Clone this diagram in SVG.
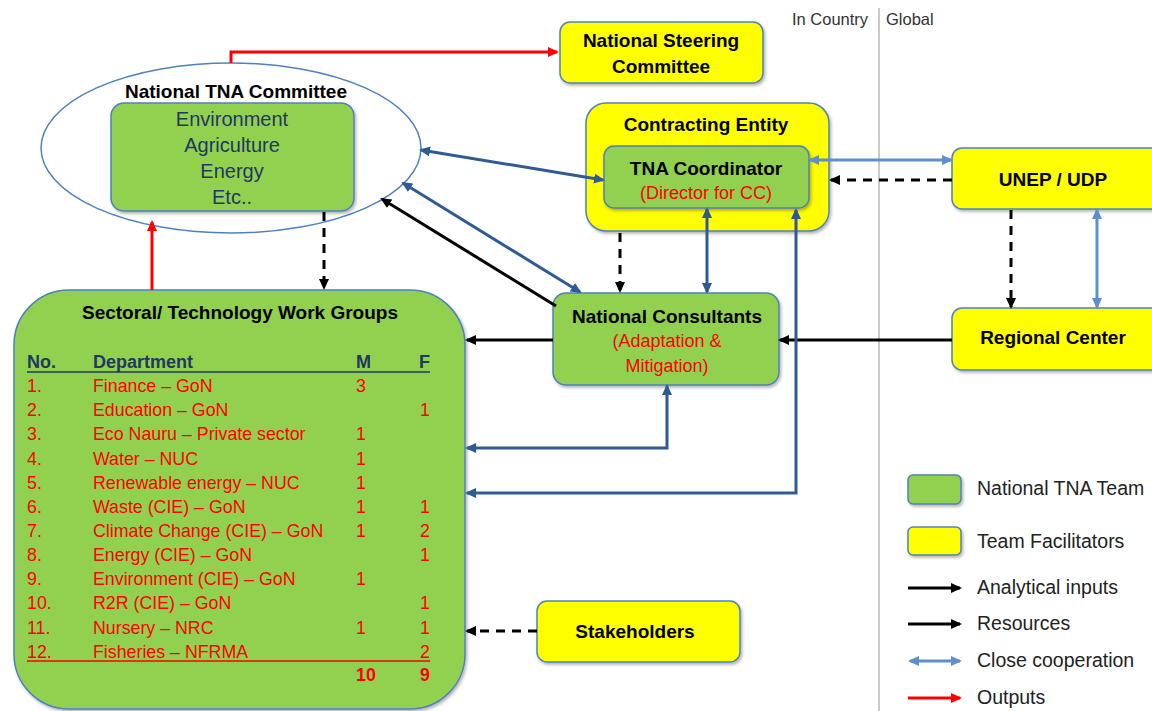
<svg xmlns="http://www.w3.org/2000/svg" width="1152" height="711" viewBox="0 0 1152 711">
<style>
text{font-family:"Liberation Sans",Arial,sans-serif}
.g{fill:#92d050;stroke:#4f81bd;stroke-width:1.5}
.y{fill:#ffff00;stroke:#4f81bd;stroke-width:1.5}
.t{font-weight:bold;font-size:19px;fill:#000;text-anchor:middle}
.nv{font-size:20px;fill:#1f3864;text-anchor:middle}
.rd{font-size:17.8px;fill:#ff0000}
.sub{font-size:18px;fill:#ff0000;text-anchor:middle}
.hd{font-size:18px;fill:#1f3864;font-weight:bold}
.lg{font-size:19.5px;fill:#222}
.sm{font-size:16.5px;fill:#333}
.c{fill:none;stroke-width:3}
.bk{stroke:#000}
.dsh{stroke:#000;stroke-dasharray:9,7}
.red{stroke:#ff0000}
.db{stroke:#2f5a94}
.lb{stroke:#5b8fd0}
</style>
<defs>
<filter id="sh" x="-10%" y="-10%" width="120%" height="130%"><feDropShadow dx="1.5" dy="2" stdDeviation="1.5" flood-color="#000" flood-opacity="0.3"/></filter>
<marker id="ab" markerUnits="userSpaceOnUse" markerWidth="11" markerHeight="10" refX="9" refY="5" orient="auto-start-reverse"><path d="M0,0 L11,5 L0,10 z" fill="#000"/></marker>
<marker id="ar" markerUnits="userSpaceOnUse" markerWidth="11" markerHeight="10" refX="9" refY="5" orient="auto-start-reverse"><path d="M0,0 L11,5 L0,10 z" fill="#ff0000"/></marker>
<marker id="ad" markerUnits="userSpaceOnUse" markerWidth="11" markerHeight="10" refX="9" refY="5" orient="auto-start-reverse"><path d="M0,0 L11,5 L0,10 z" fill="#2f5a94"/></marker>
<marker id="al" markerUnits="userSpaceOnUse" markerWidth="11" markerHeight="10" refX="9" refY="5" orient="auto-start-reverse"><path d="M0,0 L11,5 L0,10 z" fill="#5b8fd0"/></marker>
</defs>
<rect width="1152" height="711" fill="#fff"/>
<line x1="879" y1="8" x2="879" y2="711" stroke="#a6a6a6" stroke-width="1.2"/>
<text class="sm" x="792" y="25">In Country</text>
<text class="sm" x="886" y="25">Global</text>

<g id="sectoral">
<rect class="g" x="14" y="290" width="451" height="419" rx="55" filter="url(#sh)"/>
<text class="t" x="240" y="319">Sectoral/ Technology Work Groups</text>
<text class="hd" x="27" y="368">No.</text>
<text class="hd" x="93" y="368">Department</text>
<text class="hd" x="356" y="368">M</text>
<text class="hd" x="430" y="368" text-anchor="end">F</text>
<line x1="27" y1="372" x2="430" y2="372" stroke="#1f3864" stroke-width="1.5"/>
<g class="rd">
<text x="27" y="392">1.</text><text x="93" y="392">Finance – GoN</text><text x="356" y="392">3</text>
<text x="27" y="416">2.</text><text x="93" y="416">Education – GoN</text><text x="430" y="416" text-anchor="end">1</text>
<text x="27" y="440">3.</text><text x="93" y="440">Eco Nauru – Private sector</text><text x="356" y="440">1</text>
<text x="27" y="465">4.</text><text x="93" y="465">Water – NUC</text><text x="356" y="465">1</text>
<text x="27" y="489">5.</text><text x="93" y="489">Renewable energy – NUC</text><text x="356" y="489">1</text>
<text x="27" y="513">6.</text><text x="93" y="513">Waste (CIE) – GoN</text><text x="356" y="513">1</text><text x="430" y="513" text-anchor="end">1</text>
<text x="27" y="537">7.</text><text x="93" y="537">Climate Change (CIE) – GoN</text><text x="356" y="537">1</text><text x="430" y="537" text-anchor="end">2</text>
<text x="27" y="561">8.</text><text x="93" y="561">Energy (CIE) – GoN</text><text x="430" y="561" text-anchor="end">1</text>
<text x="27" y="585">9.</text><text x="93" y="585">Environment (CIE) – GoN</text><text x="356" y="585">1</text>
<text x="27" y="609">10.</text><text x="93" y="609">R2R (CIE) – GoN</text><text x="430" y="609" text-anchor="end">1</text>
<text x="27" y="634">11.</text><text x="93" y="634">Nursery – NRC</text><text x="356" y="634">1</text><text x="430" y="634" text-anchor="end">1</text>
<text x="27" y="658">12.</text><text x="93" y="658">Fisheries – NFRMA</text><text x="430" y="658" text-anchor="end">2</text>
<text x="356" y="681" font-weight="bold">10</text><text x="430" y="681" text-anchor="end" font-weight="bold">9</text>
</g>
<line x1="27" y1="661" x2="430" y2="661" stroke="#ff0000" stroke-width="1.5"/>
</g>

<g id="committee">
<ellipse cx="231" cy="148" rx="190" ry="85" fill="#fff" stroke="#4f81bd" stroke-width="1.5"/>
<text class="t" x="236" y="98">National TNA Committee</text>
<rect class="g" x="111" y="103" width="243" height="108" rx="13" filter="url(#sh)"/>
<text class="nv" x="232" y="126">Environment</text>
<text class="nv" x="232" y="152">Agriculture</text>
<text class="nv" x="232" y="178">Energy</text>
<text class="nv" x="232" y="204">Etc..</text>
</g>

<g id="steering">
<rect class="y" x="560" y="22" width="203" height="61" rx="10" filter="url(#sh)"/>
<text class="t" x="661" y="47">National Steering</text>
<text class="t" x="661" y="73">Committee</text>
</g>

<g id="contracting">
<rect class="y" x="586" y="103" width="243" height="128" rx="20" filter="url(#sh)"/>
<text class="t" x="706" y="131">Contracting Entity</text>
</g>

<g id="coordinator">
<rect class="g" x="604" y="146" width="205" height="62" rx="10" filter="url(#sh)"/>
<text class="t" x="706" y="175">TNA Coordinator</text>
<text class="sub" x="706" y="199">(Director for CC)</text>
</g>

<g id="unep">
<rect class="y" x="952" y="148" width="210" height="61" rx="10" filter="url(#sh)"/>
<text class="t" x="1053" y="186">UNEP / UDP</text>
</g>

<g id="regional">
<rect class="y" x="952" y="308" width="210" height="62" rx="10" filter="url(#sh)"/>
<text class="t" x="1053" y="344">Regional Center</text>
</g>

<g id="consultants">
<rect class="g" x="553" y="293" width="226" height="92" rx="13" filter="url(#sh)"/>
<text class="t" x="667" y="323">National Consultants</text>
<text class="sub" x="667" y="347">(Adaptation &amp;</text>
<text class="sub" x="667" y="372">Mitigation)</text>
</g>

<g id="stakeholders">
<rect class="y" x="537" y="601" width="203" height="61" rx="10" filter="url(#sh)"/>
<text class="t" x="635" y="638">Stakeholders</text>
</g>

<g id="connectors">
<path class="c red" d="M231,63 V52 H557" marker-end="url(#ar)"/>
<path class="c red" d="M152,290 V222" marker-end="url(#ar)"/>
<path class="c dsh" d="M324,212 V288" marker-end="url(#ab)"/>
<path class="c db" d="M421,150 L603,180" marker-start="url(#ad)" marker-end="url(#ad)"/>
<path class="c db" d="M403,183 L580,292" marker-start="url(#ad)" marker-end="url(#ad)"/>
<path class="c bk" d="M556,306 L382,199" marker-end="url(#ab)"/>
<path class="c dsh" d="M620,233 V291" marker-end="url(#ab)"/>
<path class="c db" d="M707,209 V292" marker-start="url(#ad)" marker-end="url(#ad)"/>
<path class="c lb" d="M810,160 H951" marker-start="url(#al)" marker-end="url(#al)"/>
<path class="c dsh" d="M952,180 H831" marker-end="url(#ab)"/>
<path class="c dsh" d="M1011,210 V307" marker-end="url(#ab)"/>
<path class="c lb" d="M1097,210 V307" marker-start="url(#al)" marker-end="url(#al)"/>
<path class="c bk" d="M952,340 H780" marker-end="url(#ab)"/>
<path class="c bk" d="M553,340 H467" marker-end="url(#ab)"/>
<path class="c db" d="M667,386 V448 H467" marker-start="url(#ad)" marker-end="url(#ad)"/>
<path class="c db" d="M796,210 V493 H467" marker-start="url(#ad)" marker-end="url(#ad)"/>
<path class="c dsh" d="M537,631 H467" marker-end="url(#ab)"/>
</g>

<g id="legend">
<rect class="g" x="908" y="475" width="53" height="29" rx="5" filter="url(#sh)"/>
<text class="lg" x="977" y="495">National TNA Team</text>
<rect class="y" x="908" y="527" width="53" height="28" rx="5" filter="url(#sh)"/>
<text class="lg" x="977" y="548">Team Facilitators</text>
<path class="c bk" d="M908,588 H960" marker-end="url(#ab)"/>
<text class="lg" x="977" y="594">Analytical inputs</text>
<path class="c bk" d="M908,624 H960" marker-end="url(#ab)"/>
<text class="lg" x="977" y="630">Resources</text>
<path class="c lb" d="M910,661 H960" marker-start="url(#al)" marker-end="url(#al)"/>
<text class="lg" x="977" y="667">Close cooperation</text>
<path class="c red" d="M908,698 H960" marker-end="url(#ar)"/>
<text class="lg" x="977" y="704">Outputs</text>
</g>
</svg>
